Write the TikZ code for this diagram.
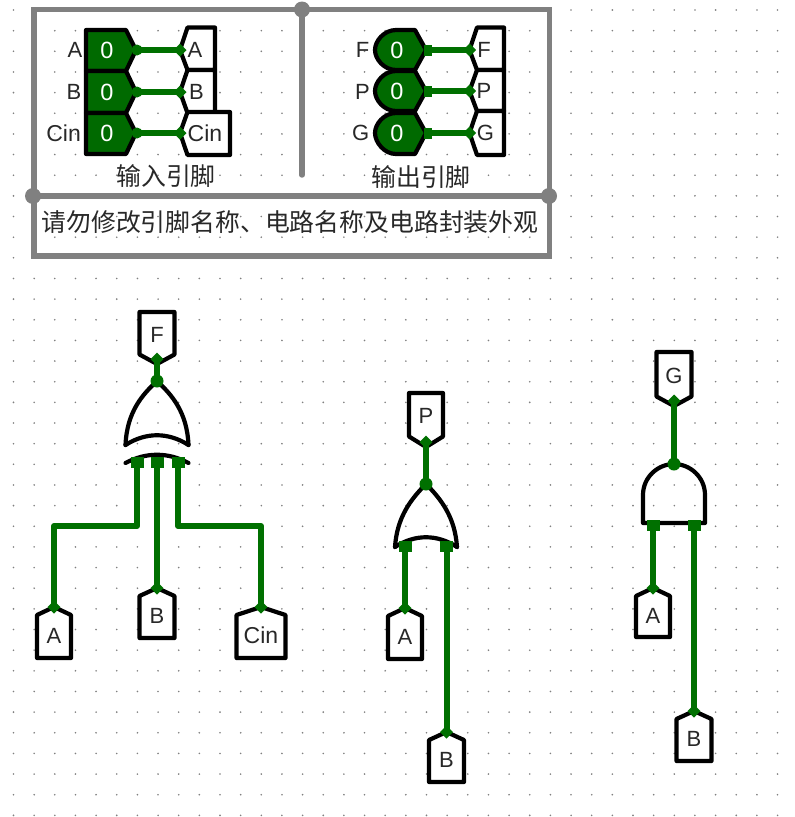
\documentclass[tikz,border=0pt]{standalone}
\usepackage{fontspec}
\setmainfont{Liberation Sans}
\newfontfamily\cjk{Noto Sans CJK SC}
\definecolor{wiregreen}{RGB}{0,112,0}
\definecolor{pingreen}{RGB}{0,106,0}
\definecolor{framegray}{RGB}{128,128,128}
\definecolor{labelink}{RGB}{40,40,40}
\newcommand{\cinword}{{\fontsize{23}{23}\selectfont Cin}}
\tikzset{
  griddot/.style={fill=black!50,draw=none},
  frameline/.style={draw=framegray,line width=5.4pt,line cap=round},
  framedot/.style={fill=framegray,draw=none},
  outlinebox/.style={draw=black,line width=4.2pt,line join=round,fill=white},
  pinbox/.style={draw=black,line width=4.2pt,line join=round,fill=pingreen},
  gateline/.style={draw=black,line width=4.2pt,line cap=round,line join=round},
  wire/.style={draw=wiregreen,line width=6pt,line cap=round,line join=round},
  tiplabel/.style={font=\fontsize{22}{22}\selectfont,text=labelink,inner sep=0pt},
  pinvalue/.style={font=\fontsize{23.5}{23.5}\selectfont,text=white,inner sep=0pt},
  cjklabel/.style={font=\cjk\fontsize{24.85}{24.85}\selectfont,text=labelink,inner sep=0pt}
}
% tunnel with its tip on top: name, cx, tip y, half width, shoulder y, bottom y, text
\newcommand{\tunup}[7]{
  \path[outlinebox] (#2-#4,#5) -- (#2,#3) -- (#2+#4,#5) -- (#2+#4,#6) -- (#2-#4,#6) -- cycle;
  \coordinate (#1) at (#2,#3);
  \node[tiplabel] (#1t) at (#2,{(#5+#6)/2-1}) {#7};
}
% tunnel with its tip below: name, cx, connection y, half width, shoulder y, top y, text
\newcommand{\tundown}[7]{
  \path[outlinebox] (#2-#4,#5) -- (#2,#3+5) -- (#2+#4,#5) -- (#2+#4,#6) -- (#2-#4,#6) -- cycle;
  \coordinate (#1) at (#2,#3);
  \node[tiplabel] (#1t) at (#2,{(#5+#6)/2+1.5}) {#7};
}
% tunnel with its tip on the left: name, tip x, y, right x, top y, bottom y, text x, text
\newcommand{\tunleft}[8]{
  \path[outlinebox] (#2,#3) -- (#2+7.5,#5) -- (#4,#5) -- (#4,#6) -- (#2+7.5,#6) -- cycle;
  \coordinate (#1) at (#2,#3);
  \node[tiplabel] (#1t) at (#7,#3) {#8};
}
\newcommand{\diamondtip}[1]{\fill[wiregreen] ($(#1)+(-6.5,0)$) -- ($(#1)+(0,-6.5)$) -- ($(#1)+(6.5,0)$) -- ($(#1)+(0,6.5)$) -- cycle;}
\newcommand{\portsq}[1]{\fill[wiregreen] ($(#1)+(-6.5,-5)$) rectangle ($(#1)+(6.5,6)$);}
\usetikzlibrary{calc}
\begin{document}
\begin{tikzpicture}[x=1pt,y=-1pt]
\useasboundingbox (0,0) rectangle (795,817);
\fill[white] (0,0) rectangle (795,817);
% grid
\foreach \i in {0,...,37}{
  \foreach \j in {0,...,39}{
    \fill[griddot] ({13.5+20.65*\i},{10+20.65*\j}) circle (0.9pt);
  }
}
% frame
\path[frameline] (34,9.5) rectangle (549.5,256);
\path[frameline] (302,9.5) -- (302,175);
\path[frameline] (33,196) -- (549,196);
\fill[framedot] (302,9.5) circle (8pt);
\fill[framedot] (33,196) circle (8pt);
\fill[framedot] (549,196) circle (8pt);
\node[cjklabel] (capin) at (166,176) {输入引脚};
\node[cjklabel] (capout) at (421,177) {输出引脚};
\node[cjklabel] (notice) at (290,222) {请勿修改引脚名称、电路名称及电路封装外观};
% appearance: input side
\foreach \nm/\t/\b/\m in {ia/30/71/50,ib/71/113/92,ic/113/154/133}{
  \path[pinbox] (86,\t) -- (126,\t) -- (136,\m) -- (126,\b) -- (86,\b) -- cycle;
  \coordinate (\nm) at (137,\m);
  \node[pinvalue] (\nm v) at (107,\m) {0};
}
\node[tiplabel,anchor=east] (ial) at (82.5,50) {A};
\node[tiplabel,anchor=east] (ibl) at (81.5,92) {B};
\node[tiplabel,anchor=east] (icl) at (81,133) {\cinword};
\tunleft{ta}{180}{50}{215}{27.5}{70}{195}{A}
\tunleft{tb}{180}{92}{215}{70}{113}{196.5}{B}
\tunleft{tc}{180}{133}{230}{112}{155}{205}{\cinword}
\foreach \a/\b in {ia/ta,ib/tb,ic/tc}{
  \path[wire] (\a) -- (\b);
  \fill[wiregreen] (\a) circle (5.5pt);
  \diamondtip{\b}
}
% appearance: output side
\foreach \nm/\t/\b/\m in {oa/30/70/50,ob/71/111/91,oc/113/154/133}{
  \path[pinbox] (415,\t) -- (426,\m) -- (415,\b) -- (396,\b) .. controls (384,\b) and (375,{\m+9}) .. (375,\m) .. controls (375,{\m-9}) and (384,\t) .. (396,\t) -- cycle;
  \coordinate (\nm) at (429,\m);
  \node[pinvalue] (\nm v) at (397,\m) {0};
}
\node[tiplabel,anchor=east] (oal) at (369.5,50) {F};
\node[tiplabel,anchor=east] (obl) at (370,92) {P};
\node[tiplabel,anchor=east] (ocl) at (369.5,133) {G};
\tunleft{tf}{469.5}{50}{504}{27.5}{70}{484}{F}
\tunleft{tp}{469.5}{91}{504}{70}{111}{484}{P}
\tunleft{tg}{469.5}{133}{504}{111}{155}{485.5}{G}
\foreach \a/\b in {oa/tf,ob/tp,oc/tg}{
  \path[wire] (\a) -- (\b);
  \fill[wiregreen] ($(\a)+(-5,-5.5)$) rectangle ($(\a)+(3,5.5)$);
  \diamondtip{\b}
}
% XOR gate
\path[gateline] (125.5,445) .. controls (127,412) and (142,395) .. (157,381) .. controls (172,395) and (187,412) .. (188.5,445);
\path[gateline] (125.5,445) .. controls (146,432) and (168,432) .. (188.5,445);
\path[gateline] (125.5,463) .. controls (146,452) and (168,452) .. (188.5,463);
\coordinate (xorout) at (157,381);
\coordinate (xora) at (137,462);
\coordinate (xorb) at (157,462);
\coordinate (xorc) at (178,462);
\tundown{fout}{157}{359}{17.5}{354.5}{312}{F}
\tunup{ain}{54}{607}{17}{615}{658}{A}
\tunup{bin}{157}{588}{17.5}{596}{638}{B}
\tunup{cin}{261}{607}{24.5}{615}{658}{\cinword}
\path[wire] (fout) -- (xorout);
\path[wire] (ain) |- (137,526) -- (xora);
\path[wire] (bin) -- (xorb);
\path[wire] (cin) |- (178,526) -- (xorc);
\fill[wiregreen] (xorout) circle (6.5pt);
\diamondtip{fout}\diamondtip{ain}\diamondtip{bin}\diamondtip{cin}
\portsq{xora}\portsq{xorb}\portsq{xorc}
% OR gate
\path[gateline] (395,547) .. controls (397,517) and (411,499) .. (426,484) .. controls (441,499) and (455,517) .. (457,547);
\path[gateline] (395,547) .. controls (415,534) and (437,534) .. (457,547);
\coordinate (orout) at (426,484);
\coordinate (ora) at (405,546);
\coordinate (orb) at (446.5,546);
\tundown{pout}{426}{442}{17}{436.5}{393}{P}
\tunup{ain2}{405}{608}{17}{616}{659}{A}
\tunup{bin2}{446.5}{732}{17.5}{740}{782}{B}
\path[wire] (pout) -- (orout);
\path[wire] (ain2) -- (ora);
\path[wire] (bin2) -- (orb);
\fill[wiregreen] (orout) circle (6.5pt);
\diamondtip{pout}\diamondtip{ain2}\diamondtip{bin2}
\portsq{ora}\portsq{orb}
% AND gate
\path[gateline] (643,523) -- (643,495) .. controls (643,477) and (658,464) .. (674,464) .. controls (690,464) and (705,477) .. (705,495) -- (705,523) -- cycle;
\coordinate (andout) at (674,464);
\coordinate (anda) at (653,525);
\coordinate (andb) at (694,525);
\tundown{gout}{674}{401}{17.5}{396.5}{352}{G}
\tunup{ain3}{653}{588}{17}{596}{637}{A}
\tunup{bin3}{694}{711}{17.5}{719}{761}{B}
\path[wire] (gout) -- (andout);
\path[wire] (ain3) -- (anda);
\path[wire] (bin3) -- (andb);
\fill[wiregreen] (andout) circle (6.5pt);
\diamondtip{gout}\diamondtip{ain3}\diamondtip{bin3}
\portsq{anda}\portsq{andb}
\end{tikzpicture}
\end{document}
